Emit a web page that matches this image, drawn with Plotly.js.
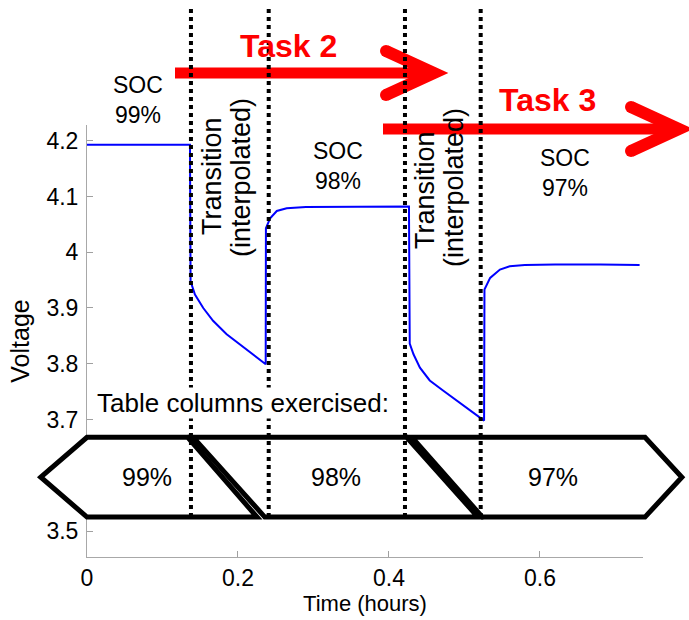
<!DOCTYPE html>
<html>
<head>
<meta charset="utf-8">
<script src="https://cdn.plot.ly/plotly-3.0.1.min.js"></script>
<style>html,body{margin:0;padding:0;background:#fff;}#chart{width:689px;height:620px;}</style>
</head>
<body>
<div id="chart"></div>
<script>
// ---- data ----
const timeHours = [0, 0.1364, 0.1372, 0.143, 0.154, 0.167, 0.185, 0.2026, 0.220, 0.2367,
  0.2370, 0.2426, 0.2514, 0.2645, 0.29, 0.35, 0.4265,
  0.4275, 0.4325, 0.441, 0.454, 0.4716, 0.4893, 0.507, 0.526,
  0.5265, 0.534, 0.547, 0.560, 0.58, 0.62, 0.68, 0.732];
const voltage = [4.193, 4.193, 3.948, 3.924, 3.900, 3.877, 3.853, 3.835, 3.817, 3.799,
  4.043, 4.061, 4.074, 4.079, 4.081, 4.082, 4.082,
  3.836, 3.817, 3.793, 3.770, 3.752, 3.734, 3.716, 3.698,
  3.933, 3.954, 3.969, 3.975, 3.977, 3.978, 3.978, 3.977];
const phaseBounds = [0.1377, 0.2407, 0.4212, 0.5215];   // dotted lines
const socLabels = ['99%', '98%', '97%'];
const socLabelX = [0.0792, 0.3298, 0.6172];
const xTicks = [0, 0.2, 0.4, 0.6];
const xTickText = ['0', '0.2', '0.4', '0.6'];
const yTicks = [3.5, 3.6, 3.7, 3.8, 3.9, 4.0, 4.1, 4.2];
const yTickText = ['3.5', '3.6', '3.7', '3.8', '3.9', '4', '4.1', '4.2'];
// table column blocks (hours): [top-left, top-right, bottom-right, bottom-left]
const colTop = [[0, 0.1335], [0.1407, 0.4235], [0.4305, 0.7391]];
const colBot = [[0, 0.2252], [0.2355, 0.5179], [0.5237, 0.7391]];
const colTipLeft = -0.0612, colTipRight = 0.788;
const tableYTop = 3.668, tableYBot = 3.525;

// ---- layout helpers ----
const W = 689, H = 620, ML = 87, MR = 46, MT = 125, MB = 63;
const PW = W - ML - MR, PH = H - MT - MB;
const XR = [0, 0.7365], YR = [3.4534, 4.2282];
const xp = x => (x - XR[0]) / (XR[1] - XR[0]);
const yp = y => (y - YR[0]) / (YR[1] - YR[0]);
const px = X => (X - ML) / PW;
const py = Y => (H - MB - Y) / PH;
const FONT = 'Liberation Sans, Arial, Helvetica, sans-serif';

const shapes = [];
// table blocks
const yMid = (tableYTop + tableYBot) / 2;
for (let i = 0; i < 3; i++) {
  let d = '';
  const T = colTop[i], B = colBot[i];
  if (i === 0) {
    d = `M${xp(colTipLeft)},${yp(yMid)} L${xp(T[0])},${yp(tableYTop)} L${xp(T[1])},${yp(tableYTop)} L${xp(B[1])},${yp(tableYBot)} L${xp(B[0])},${yp(tableYBot)} Z`;
  } else if (i === 2) {
    d = `M${xp(T[0])},${yp(tableYTop)} L${xp(T[1])},${yp(tableYTop)} L${xp(colTipRight)},${yp(yMid)} L${xp(B[1])},${yp(tableYBot)} L${xp(B[0])},${yp(tableYBot)} Z`;
  } else {
    d = `M${xp(T[0])},${yp(tableYTop)} L${xp(T[1])},${yp(tableYTop)} L${xp(B[1])},${yp(tableYBot)} L${xp(B[0])},${yp(tableYBot)} Z`;
  }
  shapes.push({type: 'path', xref: 'paper', yref: 'paper', path: d, fillcolor: '#ffffff',
    line: {color: '#000000', width: 5}, layer: 'above'});
}
// red arrows
function arrow(x0, x1, y, headBack, headHalf) {
  shapes.push({type: 'line', xref: 'paper', yref: 'paper', x0: px(x0), x1: px(x1 - 4), y0: py(y), y1: py(y),
    line: {color: '#ff0000', width: 11}, layer: 'above'});
  const a = [x1 - headBack, y - headHalf], b = [x1 - headBack, y + headHalf];
  shapes.push({type: 'path', xref: 'paper', yref: 'paper',
    path: `M${px(a[0])},${py(a[1])} L${px(x1)},${py(y)} L${px(b[0])},${py(b[1])}`,
    line: {color: '#ff0000', width: 12}, layer: 'above'});
  [a, b].forEach(p => shapes.push({type: 'circle', xref: 'paper', yref: 'paper',
    x0: px(p[0] - 6), x1: px(p[0] + 6), y0: py(p[1] + 6), y1: py(p[1] - 6),
    fillcolor: '#ff0000', line: {width: 0}, layer: 'above'}));
}
arrow(175, 434, 73, 48, 22);
arrow(383, 679, 129, 48, 22);
// dotted phase lines
phaseBounds.forEach(x => shapes.push({type: 'line', xref: 'x', yref: 'paper', x0: x, x1: x,
  y0: yp(tableYBot), y1: py(8), line: {color: '#000000', width: 4, dash: 'dot'}, layer: 'above'}));

const annotations = [];
function txt(text, X, Y, size, extra) {
  annotations.push(Object.assign({text: text, xref: 'paper', yref: 'paper', x: px(X), y: py(Y),
    xanchor: 'center', yanchor: 'middle', showarrow: false,
    font: {family: FONT, size: size, color: '#000000'}}, extra || {}));
}
txt('SOC<br>99%', 138, 100, 23);
txt('SOC<br>98%', 338, 166, 23);
txt('SOC<br>97%', 565, 173, 23);
txt('Transition', 212, 176, 27, {textangle: -90});
txt('(interpolated)', 241, 178, 27, {textangle: -90});
txt('Transition', 425, 190, 27, {textangle: -90});
txt('(interpolated)', 454, 188, 27, {textangle: -90});
txt('Table columns exercised:', 243, 403, 26, {bgcolor: '#ffffff', borderpad: 0});
txt('<b>Task 2</b>', 288, 46, 32, {font: {family: FONT, size: 32, color: '#ff0000'}});
txt('<b>Task 3</b>', 547, 100, 32, {font: {family: FONT, size: 32, color: '#ff0000'}});
socLabels.forEach((s, i) => annotations.push({text: s, xref: 'x', yref: 'y', x: socLabelX[i], y: yMid,
  xanchor: 'center', yanchor: 'middle', showarrow: false, font: {family: FONT, size: 25, color: '#000000'}}));

const trace = {x: timeHours, y: voltage, type: 'scatter', mode: 'lines',
  line: {color: '#0000ff', width: 2}, hoverinfo: 'skip'};

const layout = {
  width: W, height: H, margin: {l: ML, r: MR, t: MT, b: MB},
  paper_bgcolor: '#ffffff', plot_bgcolor: '#ffffff', showlegend: false,
  font: {family: FONT, color: '#000000'},
  xaxis: {range: XR, tickvals: xTicks, ticktext: xTickText, ticks: 'inside', ticklen: 6,
    tickcolor: '#a0a0a0', showline: true, linecolor: '#a8a8a8', linewidth: 1, showgrid: false,
    zeroline: false, tickfont: {family: FONT, size: 23, color: '#000000'}, ticklabelstandoff: 0,
    title: {text: 'Time (hours)', font: {family: FONT, size: 22, color: '#000000'}, standoff: 6}},
  yaxis: {range: YR, tickvals: yTicks, ticktext: yTickText, ticks: 'inside', ticklen: 6,
    tickcolor: '#a0a0a0', showline: true, linecolor: '#a8a8a8', linewidth: 1, showgrid: false,
    zeroline: false, tickfont: {family: FONT, size: 23, color: '#000000'}, ticklabelstandoff: 3,
    title: {text: 'Voltage', font: {family: FONT, size: 25, color: '#000000'}, standoff: 9}},
  shapes: shapes, annotations: annotations
};
Plotly.newPlot('chart', [trace], layout, {displayModeBar: false, staticPlot: true});
</script>
</body>
</html>
